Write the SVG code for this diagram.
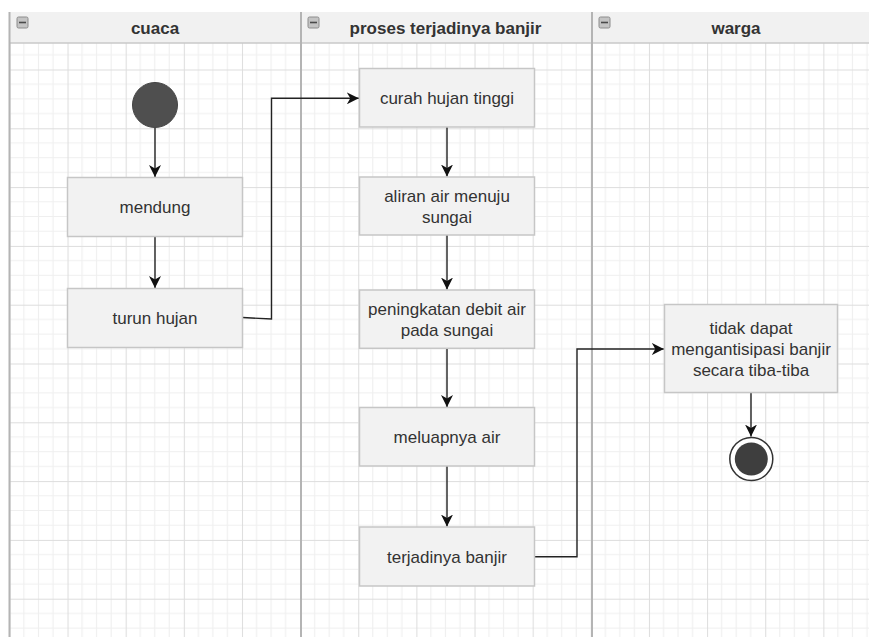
<svg xmlns="http://www.w3.org/2000/svg" width="869" height="637" viewBox="0 0 869 637">
  <style>
    .lane-title { font-family: "Liberation Sans", Arial, sans-serif; font-size: 17px; font-weight: bold; fill: #333333; text-anchor: middle; }
    .label { font-family: "Liberation Sans", Arial, sans-serif; font-size: 17px; fill: #333333; text-anchor: middle; }
    .action { fill: #f2f2f2; stroke: #c6c6c6; stroke-width: 1.5; }
    .edge { fill: none; stroke: #222222; stroke-width: 1.4; }
    .divider { stroke: #b4b4b4; stroke-width: 2; }
    .toggle { fill: #c4c4c4; stroke: #8c8c8c; stroke-width: 1; }
    .toggle-bar { stroke: #4a4a4a; stroke-width: 1.6; }
  </style>
  <defs>
    <pattern id="grid" patternUnits="userSpaceOnUse" x="9.4" y="10.7" width="58.14" height="58.8">
      <rect width="58.14" height="58.8" fill="#ffffff"/>
      <path d="M14.535 0V58.8M29.07 0V58.8M43.605 0V58.8M0 14.7H58.14M0 29.4H58.14M0 44.1H58.14" stroke="#efefef" stroke-width="1"/>
      <path d="M0.5 0V58.8M0 0.5H58.14" stroke="#dddddd" stroke-width="1"/>
    </pattern>
    <marker id="arrow" markerUnits="userSpaceOnUse" markerWidth="14" markerHeight="12" refX="12" refY="6" orient="auto">
      <path d="M0,0 L12,6 L0,12 L3.5,6 Z" fill="#111111"/>
    </marker>
  </defs>

  <!-- swimlane canvas -->
  <rect x="0" y="0" width="869" height="637" fill="#ffffff"/>
  <rect x="9.5" y="12" width="859.5" height="625" fill="url(#grid)"/>

  <!-- lane headers -->
  <g id="lane-headers">
    <rect x="9.5" y="12" width="859.5" height="31" fill="#f1f1f1"/>
    <line x1="9.5" y1="43" x2="869" y2="43" stroke="#c8c8c8" stroke-width="1.5"/>
    <line class="divider" x1="9.5" y1="12" x2="9.5" y2="637"/>
    <line class="divider" x1="301" y1="12" x2="301" y2="637"/>
    <line class="divider" x1="592" y1="12" x2="592" y2="637"/>
  </g>

  <g id="lane-cuaca">
    <rect class="toggle" x="17" y="17" width="11" height="11" rx="1.5"/>
    <line class="toggle-bar" x1="19" y1="22.5" x2="26" y2="22.5"/>
    <text class="lane-title" x="155" y="34">cuaca</text>
  </g>
  <g id="lane-proses">
    <rect class="toggle" x="308" y="17" width="11" height="11" rx="1.5"/>
    <line class="toggle-bar" x1="310" y1="22.5" x2="317" y2="22.5"/>
    <text class="lane-title" x="445.5" y="34">proses terjadinya banjir</text>
  </g>
  <g id="lane-warga">
    <rect class="toggle" x="599" y="17" width="11" height="11" rx="1.5"/>
    <line class="toggle-bar" x1="601" y1="22.5" x2="608" y2="22.5"/>
    <text class="lane-title" x="736" y="34">warga</text>
  </g>

  <!-- connectors -->
  <g id="connectors">
    <path class="edge" d="M155 127.7V177" marker-end="url(#arrow)"/>
    <path class="edge" d="M155 236.7V288" marker-end="url(#arrow)"/>
    <path class="edge" d="M242.7 317.5L271.5 319V98.3H358.8" marker-end="url(#arrow)"/>
    <path class="edge" d="M447 127V176.5" marker-end="url(#arrow)"/>
    <path class="edge" d="M447 235V289.5" marker-end="url(#arrow)"/>
    <path class="edge" d="M447 348.3V407" marker-end="url(#arrow)"/>
    <path class="edge" d="M447 466V526.5" marker-end="url(#arrow)"/>
    <path class="edge" d="M533.5 556.7H577V349H663.8" marker-end="url(#arrow)"/>
    <path class="edge" d="M751 392.7V436.5" marker-end="url(#arrow)"/>
  </g>

  <!-- nodes -->
  <g id="start">
    <circle cx="155" cy="105" r="22.5" fill="#4f4f4f" stroke="#444444" stroke-width="1"/>
  </g>
  <g id="mendung">
    <rect class="action" x="67.5" y="177.5" width="175" height="59"/>
    <text class="label" x="155" y="213">mendung</text>
  </g>
  <g id="turun-hujan">
    <rect class="action" x="67.5" y="288.5" width="175" height="59"/>
    <text class="label" x="155" y="324">turun hujan</text>
  </g>
  <g id="curah-hujan-tinggi">
    <rect class="action" x="359.5" y="68.5" width="175" height="58.5"/>
    <text class="label" x="447" y="104">curah hujan tinggi</text>
  </g>
  <g id="aliran-air">
    <rect class="action" x="359.5" y="177" width="175" height="58"/>
    <text class="label" x="447" y="201.5">aliran air menuju</text>
    <text class="label" x="447" y="222.5">sungai</text>
  </g>
  <g id="peningkatan-debit">
    <rect class="action" x="359.5" y="290" width="175" height="58.3"/>
    <text class="label" x="447" y="314.5">peningkatan debit air</text>
    <text class="label" x="447" y="335.5">pada sungai</text>
  </g>
  <g id="meluapnya-air">
    <rect class="action" x="359.5" y="407.5" width="175" height="58.5"/>
    <text class="label" x="447" y="442.7">meluapnya air</text>
  </g>
  <g id="terjadinya-banjir">
    <rect class="action" x="359.5" y="527" width="175" height="59"/>
    <text class="label" x="447" y="562.5">terjadinya banjir</text>
  </g>
  <g id="tidak-dapat">
    <rect class="action" x="664.5" y="304.5" width="173" height="88"/>
    <text class="label" x="751" y="333.5">tidak dapat</text>
    <text class="label" x="751" y="354.5">mengantisipasi banjir</text>
    <text class="label" x="751" y="375.5">secara tiba-tiba</text>
  </g>
  <g id="end">
    <circle cx="751.3" cy="459" r="21.5" fill="#ffffff" stroke="#333333" stroke-width="1.5"/>
    <circle cx="751.3" cy="459" r="16.5" fill="#3e3e3e"/>
  </g>
</svg>
